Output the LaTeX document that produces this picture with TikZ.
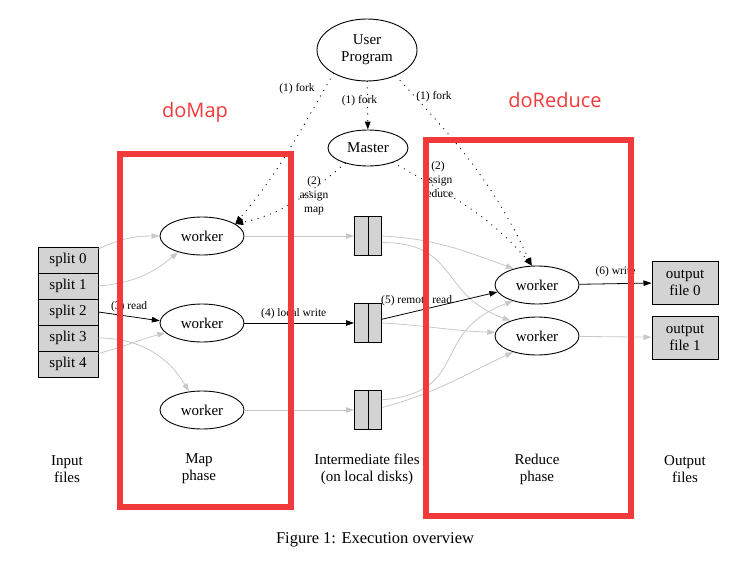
\documentclass[tikz,border=0pt]{standalone}
\usepackage{fontspec}
\setmainfont{Liberation Serif}
\newfontfamily\notefont{Open Sans}
\usetikzlibrary{arrows.meta,shapes.geometric}
\definecolor{boxgray}{RGB}{211,211,211}
\definecolor{edgegray}{RGB}{200,200,200}
\definecolor{markred}{RGB}{243,58,58}
\tikzset{
	proc/.style={ellipse,draw,line width=0.9pt,inner sep=0pt,align=center,font=\fontsize{15}{17}\selectfont},
	worker/.style={proc,minimum width=84pt,minimum height=38pt},
	filebox/.style={rectangle,draw,line width=1pt,fill=boxgray,inner sep=0pt,align=center,font=\fontsize{15}{17}\selectfont},
	tag/.style={inner sep=0pt,align=center,font=\fontsize{11.5}{14}\selectfont},
	legend/.style={align=center,font=\fontsize{15}{17}\selectfont},
	flow/.style={line width=0.8pt,-{Triangle[length=8pt,width=5.5pt]}},
	faint/.style={flow,edgegray},
	ctrl/.style={flow,line width=1.3pt,line cap=round,dash pattern=on 0pt off 6.5pt},
	phasebox/.style={draw=markred,line width=6.5pt},
	phasetext/.style={text=markred,font=\notefont\fontsize{20}{24}\selectfont}
}
\begin{document}
\begin{tikzpicture}[x=1pt,y=-1pt]
	\useasboundingbox (0,0) rectangle (748,565);
	\node (up) at (367,50) [proc,minimum width=100pt,minimum height=62pt] {User\\Program};
	\node (ms) at (368,148) [proc,minimum width=80pt,minimum height=36pt] {Master};
	\foreach \i in {0,...,4}
		\node (s\i) at (68,{260+26*\i}) [filebox,minimum width=60pt,minimum height=26pt] {split \i};
	\foreach \i/\y in {1/236,2/323,3/410} {
		\node (wm\i) at (202,\y) [worker] {worker};
		\node (f\i) at (368,\y) [filebox,minimum width=27pt,minimum height=39pt] {};
		\draw[line width=1pt] (f\i.north) -- (f\i.south);
	}
	\node (wr1) at (537,285) [worker] {worker};
	\node (wr2) at (537,336) [worker] {worker};
	\node (o0) at (685,282.5) [filebox,minimum width=66pt,minimum height=43pt] {output\\file 0};
	\node (o1) at (685,337.5) [filebox,minimum width=66pt,minimum height=43pt] {output\\file 1};

	\draw[faint] (s0.20) to[out=25,in=180] (wm1.west);
	\draw[faint] (s1.east) to[out=5,in=220] (wm1.214);
	\draw[faint] (s3.east) to[out=0,in=121] (wm3.125);
	\draw[faint] (s4.19) to[out=15,in=195] (wm2.195);
	\draw[flow] (s2.east) -- node[tag,above=4pt] (lread) {(3) read} (wm2.177);
	\draw[faint] (wm1) -- (f1);
	\draw[flow] (wm2) -- node[tag,pos=.45,above=4pt] (lwrite) {(4) local write} (f2);
	\draw[faint] (wm3) -- (f3);

	\draw[faint] (f1.east) to[out=-3,in=160] (wr1.145);
	\draw[faint] (f1.-25) to[out=0,in=160,looseness=1.3] (wr2.150);
	\draw[faint] (f2.east) to[out=-3,in=178] (wr2.175);
	\draw[faint] (f3.36) to[out=5,in=200,looseness=1.4] (wr1.214);
	\draw[faint] (f3.10) to[out=15,in=205] (wr2.214);
	\draw[flow] (f2.15) -- node[tag,pos=.3,above=5pt] (lremote) {(5) remote read} (wr1.190);
	\draw[flow] (wr1) -- node[tag,above=6pt] (lout) {(6) write} (o0);
	\draw[faint] (wr2) -- (o1);

	\draw[ctrl] (up) -- node[tag,pos=.4,xshift=-8pt] (lfork2) {(1) fork} (ms);
	\draw[ctrl] (up.215) to[out=240,in=50] (wm1.20);
	\node (lfork1) at (297,89) [tag] {(1) fork};
	\draw[ctrl] (ms.214) to[out=220,in=12] (wm1.20);
	\node (lmap) at (314,196) [tag] {(2)\\assign\\map};
	\draw[ctrl] (up.-42) to[out=-47,in=115] (wr1.105);
	\node (lfork3) at (434,97) [tag] {(1) fork};
	\draw[ctrl] (ms.-30) to[out=-30,in=130] (wr1.105);
	\node (lreduce) at (438,180) [tag] {(2)\\assign\\reduce};

	\node (tin) at (67,469) [legend] {Input\\files};
	\node (tmap) at (199,469) [legend] {Map\\phase};
	\node (tmid) at (367,469) [legend] {Intermediate files\\(on local disks)};
	\node (tred) at (537,469) [legend] {Reduce\\phase};
	\node (tout) at (685,469) [legend] {Output\\files};
	\node (cap) at (375,540) [legend,font=\fontsize{16.5}{19}\selectfont] {Figure 1: Execution overview};

	\draw[phasebox] (120,154) rectangle (291,507);
	\draw[phasebox] (426,140) rectangle (631,516);
	\node (dmap) at (195,112) [phasetext] {doMap};
	\node (dred) at (555,100) [phasetext] {doReduce};
\end{tikzpicture}
\end{document}
